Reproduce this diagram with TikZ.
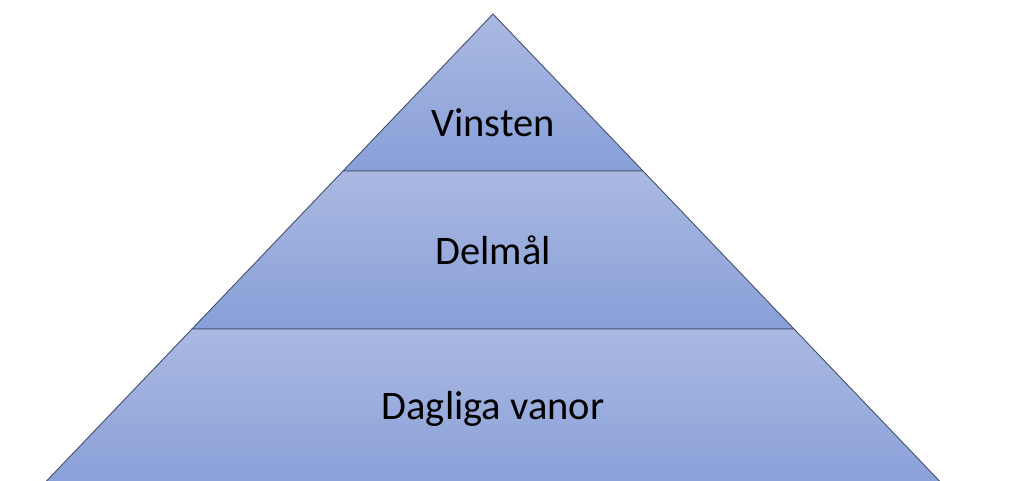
\documentclass[tikz,border=0pt]{standalone}
\usepackage{fontspec}
\setmainfont{Carlito}
\definecolor{layertop}{HTML}{AAB9E2}
\definecolor{layerbot}{HTML}{889FD8}
\definecolor{edge}{HTML}{44506C}
\begin{document}
\begin{tikzpicture}[x=1pt,y=-1pt,
  layer/.style={top color=layertop,bottom color=layerbot,draw=edge,line width=0.9pt,line join=miter},
  lbl/.style={font=\fontsize{40.5}{44}\selectfont,text=black,inner sep=0pt}]
\useasboundingbox (0,0) rectangle (1010,480);
\begin{scope}
\clip (0,0) rectangle (1010,480);
\path[layer] (493,14) -- (643,171) -- (343,171) -- cycle;
\path[layer] (343,171) -- (643,171) -- (794,329) -- (192,329) -- cycle;
\path[layer] (192,329) -- (794,329) -- (950,492) -- (36,492) -- cycle;
\end{scope}
\node[lbl] (v) at (493,123) {Vinsten};
\node[lbl] (d) at (493,250) {Delmål};
\node[lbl] (g) at (493,409) {Dagliga vanor};
\end{tikzpicture}
\end{document}
